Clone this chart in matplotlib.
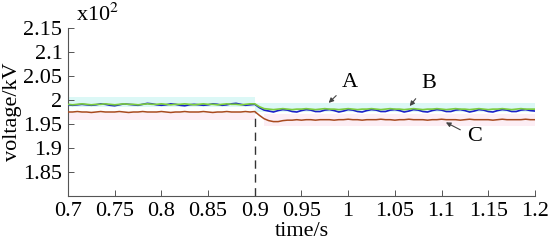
import numpy as np
import matplotlib
matplotlib.use('Agg')
import matplotlib.pyplot as plt

plt.rcParams['font.family'] = ['Liberation Serif', 'DejaVu Serif']
plt.rcParams['mathtext.fontset'] = 'stix'
plt.rcParams['font.size'] = 16

# sample times, 0.7 .. 1.2 s every 5 ms
t = np.linspace(0.7, 1.2, 101)

# voltages in x10^2 kV
volt_a = [1.991, 1.990, 1.991, 1.992, 1.991, 1.990, 1.991, 1.991, 1.992, 1.991,
          1.990, 1.991, 1.992, 1.991, 1.991, 1.990, 1.991, 1.992, 1.991, 1.991,
          1.992, 1.991, 1.990, 1.991, 1.991, 1.992, 1.991, 1.990, 1.991, 1.992,
          1.991, 1.991, 1.990, 1.991, 1.992, 1.991, 1.991, 1.990, 1.991, 1.992, 1.992,
          1.986, 1.982, 1.981, 1.980, 1.981, 1.982, 1.981, 1.980, 1.981, 1.981,
          1.982, 1.981, 1.980, 1.981, 1.982, 1.981, 1.981, 1.980, 1.981, 1.982,
          1.981, 1.980, 1.981, 1.981, 1.982, 1.981, 1.980, 1.981, 1.982, 1.981,
          1.981, 1.980, 1.981, 1.982, 1.981, 1.980, 1.981, 1.981, 1.982, 1.981,
          1.980, 1.981, 1.982, 1.981, 1.981, 1.980, 1.981, 1.982, 1.981, 1.980,
          1.981, 1.981, 1.982, 1.981, 1.980, 1.981, 1.982, 1.981, 1.981, 1.981]

volt_b = [1.990, 1.989, 1.990, 1.991, 1.990, 1.989, 1.990, 1.992, 1.991, 1.989,
          1.988, 1.990, 1.992, 1.991, 1.990, 1.989, 1.991, 1.993, 1.992, 1.990,
          1.989, 1.990, 1.992, 1.991, 1.989, 1.988, 1.990, 1.991, 1.990, 1.989,
          1.990, 1.992, 1.991, 1.989, 1.990, 1.992, 1.993, 1.991, 1.989, 1.990, 1.991,
          1.984, 1.979, 1.977, 1.975, 1.978, 1.980, 1.979, 1.976, 1.975, 1.978,
          1.980, 1.979, 1.976, 1.976, 1.979, 1.980, 1.978, 1.975, 1.977, 1.980,
          1.979, 1.976, 1.975, 1.978, 1.980, 1.979, 1.976, 1.976, 1.979, 1.980,
          1.978, 1.975, 1.977, 1.980, 1.979, 1.976, 1.975, 1.978, 1.980, 1.979,
          1.976, 1.976, 1.979, 1.980, 1.978, 1.975, 1.977, 1.980, 1.979, 1.976,
          1.975, 1.978, 1.980, 1.979, 1.976, 1.976, 1.979, 1.980, 1.978, 1.977]

volt_c = [1.975, 1.975, 1.976, 1.975, 1.975, 1.974, 1.975, 1.976, 1.975, 1.975,
          1.975, 1.976, 1.975, 1.974, 1.975, 1.975, 1.976, 1.975, 1.975, 1.975,
          1.976, 1.975, 1.974, 1.975, 1.975, 1.976, 1.975, 1.975, 1.975, 1.976,
          1.975, 1.974, 1.975, 1.975, 1.976, 1.975, 1.975, 1.975, 1.976, 1.975, 1.976,
          1.968, 1.961, 1.957, 1.955, 1.955, 1.957, 1.958, 1.958, 1.959, 1.958,
          1.959, 1.959, 1.958, 1.959, 1.959, 1.959, 1.958, 1.959, 1.959, 1.960,
          1.959, 1.959, 1.958, 1.959, 1.959, 1.959, 1.960, 1.959, 1.959, 1.958,
          1.959, 1.959, 1.960, 1.959, 1.959, 1.959, 1.958, 1.959, 1.959, 1.960,
          1.959, 1.959, 1.959, 1.958, 1.959, 1.960, 1.959, 1.959, 1.959, 1.959,
          1.958, 1.959, 1.960, 1.959, 1.959, 1.959, 1.959, 1.960, 1.959, 1.959]

# faint shaded envelopes behind the traces: (t0, t1, low, high)
cyan_bands = [(0.7, 0.9, 1.986, 2.007), (0.9, 1.2, 1.975, 1.993)]
pink_bands = [(0.7, 0.9, 1.959, 1.973), (0.91, 1.2, 1.945, 1.971)]

fig = plt.figure(figsize=(5.5, 2.45), dpi=100)
ax = fig.add_axes([0.1236, 0.2, 0.849, 0.6857])

for t0, t1, lo, hi in cyan_bands:
    ax.fill_between([t0, t1], lo, hi, color='#dcf8f6', lw=0, zorder=1)
for t0, t1, lo, hi in pink_bands:
    ax.fill_between([t0, t1], lo, hi, color='#fdeef4', lw=0, zorder=1)

ax.plot(t, volt_c, color='#a84a1e', lw=1.1, zorder=3)
ax.plot(t, volt_b, color='#1c20c8', lw=1.2, zorder=3)
ax.plot(t, volt_a, color='#7ccc3e', lw=1.2, zorder=4)

ax.vlines(0.9, 1.8, volt_c[40], colors='#333333', linestyles=(0, (6, 4)), lw=1, zorder=2)

arrow = dict(arrowstyle='-|>', color='#444444', lw=0.8, mutation_scale=7, shrinkA=3)
ax.annotate('A', xy=(0.977, 1.990), xytext=(1.002, 2.037), ha='center', va='center',
            arrowprops=arrow)
ax.annotate('B', xy=(1.064, 1.983), xytext=(1.086, 2.035), ha='center', va='center',
            arrowprops=arrow)
ax.annotate('C', xy=(1.102, 1.956), xytext=(1.135, 1.923), ha='center', va='center',
            arrowprops=arrow)

ax.set_xlim(0.7, 1.2)
ax.set_ylim(1.8, 2.15)
xt = [0.7, 0.75, 0.8, 0.85, 0.9, 0.95, 1.0, 1.05, 1.1, 1.15, 1.2]
yt = [1.85, 1.9, 1.95, 2.0, 2.05, 2.1, 2.15]
ax.set_xticks(xt)
ax.set_xticklabels(['%g' % v for v in xt])
ax.set_yticks(yt)
ax.set_yticklabels(['%g' % v for v in yt])
ax.tick_params(direction='in', length=4, width=0.7, color='#555555', pad=4)

for s in ['top', 'right']:
    ax.spines[s].set_visible(False)
for s in ['left', 'bottom']:
    ax.spines[s].set_color('#555555')
    ax.spines[s].set_linewidth(0.8)

ax.set_xlabel('time/s', labelpad=1)
ax.set_ylabel('voltage/kV', labelpad=1)
fig.text(0.138, 0.895, 'x10$^{2}$', ha='left', va='bottom')

fig.savefig('out.png', dpi=100)
